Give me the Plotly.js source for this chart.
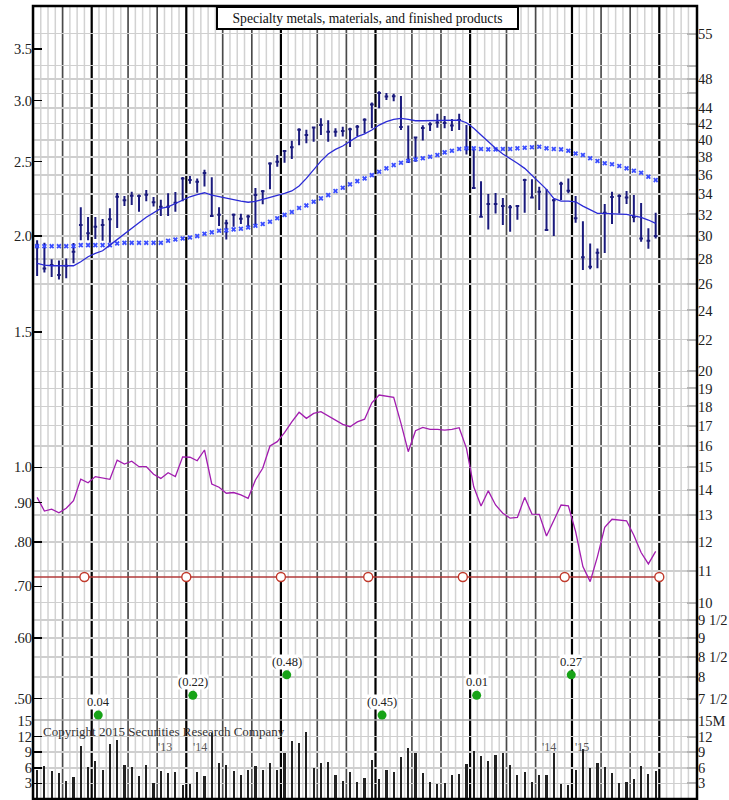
<!DOCTYPE html>
<html>
<head>
<meta charset="utf-8">
<script src="https://cdn.plot.ly/plotly-3.0.1.min.js"></script>
<style>html,body{margin:0;padding:0;background:#fff;}#chart{width:729px;height:800px;}</style>
</head>
<body>
<div id="chart"></div>
<script>
// ---------------- DATA (weekly bars, index 0 = first week shown) ----------------
const high = [29.63,29.39,27.97,27.88,28.05,29.37,32.71,31.75,31.75,31.56,
32.59,34.12,33.81,34.25,33.96,34.43,33.71,33.44,34.09,34.22,
35.79,35.90,35.65,36.59,35.76,32.70,31.50,32.10,32.06,31.96,
34.64,34.43,37.41,38.23,38.81,39.90,41.42,41.25,41.62,42.68,
42.42,41.42,41.62,41.50,41.83,42.68,44.76,46.28,46.03,45.93,
45.63,41.77,40.40,41.80,42.18,43.28,42.98,42.59,43.28,41.83,
38.93,35.36,34.02,34.12,33.61,32.91,32.91,35.60,35.55,34.78,
34.53,33.51,35.29,35.65,33.81,31.36,29.34,28.90,33.01,34.25,
33.99,34.33,33.91,33.11,30.70,32.16];
const low = [26.61,26.89,26.53,26.33,26.44,27.64,29.63,29.63,29.72,29.57,
29.39,30.72,32.81,32.91,32.26,33.28,32.78,31.85,31.85,32.26,
33.29,35.08,34.15,34.80,31.75,30.90,29.69,30.85,31.10,30.70,
30.88,33.00,34.50,36.91,37.36,37.79,39.36,39.60,39.79,40.60,
39.79,40.40,40.42,39.17,40.48,40.80,41.42,43.98,45.08,44.92,
41.21,37.32,37.47,39.95,41.10,41.48,41.42,41.10,41.21,38.29,
34.53,31.75,30.60,32.10,31.00,30.39,31.50,32.16,33.58,32.42,
30.54,29.99,33.41,34.09,31.22,27.09,27.15,27.23,28.50,31.10,
32.10,33.01,31.27,29.48,28.87,29.78];
const close = [29.10,27.22,27.50,26.69,27.45,28.61,31.00,30.24,30.84,31.00,
31.54,33.74,33.38,33.84,33.81,33.95,33.19,32.74,32.74,33.14,
35.65,35.47,35.29,36.22,31.85,31.96,31.17,31.96,31.60,31.80,
33.91,34.30,37.29,37.47,38.69,39.13,41.25,40.60,41.52,41.83,
41.00,41.00,41.09,41.30,41.62,42.50,44.50,46.03,45.58,45.60,
41.58,37.51,40.30,41.46,41.93,42.16,42.08,41.77,42.46,39.03,
34.64,31.78,33.01,33.01,32.81,32.69,32.81,35.47,33.66,34.25,
30.54,33.38,35.07,34.36,31.63,28.14,27.36,28.53,32.16,33.71,
33.81,33.66,31.75,29.78,29.57,29.99];
const ma10 = [27.63,27.50,27.44,27.44,27.44,27.44,27.77,28.19,28.48,28.70,
29.19,29.69,30.24,30.70,31.22,31.73,32.20,32.59,32.74,33.08,
33.41,33.74,33.96,34.15,33.91,33.74,33.58,33.44,33.31,33.19,
33.28,33.48,33.68,33.84,34.09,34.33,34.85,35.65,36.63,37.55,
38.35,38.89,39.28,39.79,40.40,40.73,41.21,41.83,42.25,42.55,
42.68,42.55,42.37,42.37,42.37,42.42,42.46,42.46,42.46,42.12,
41.42,40.60,39.79,39.01,38.35,37.86,37.30,36.74,36.00,35.18,
34.50,33.58,33.31,33.31,33.24,32.81,32.42,32.10,32.10,32.10,
32.03,32.00,31.85,31.72,31.47,31.16];
const ma40 = [29.10,29.10,29.10,29.10,29.10,29.10,29.19,29.19,29.19,29.19,
29.19,29.34,29.39,29.39,29.39,29.39,29.39,29.39,29.57,29.68,
29.78,29.87,29.99,30.20,30.33,30.47,30.51,30.60,30.66,30.78,
30.93,31.10,31.31,31.63,31.96,32.23,32.62,32.88,33.24,33.58,
33.91,34.33,34.67,35.02,35.36,35.65,36.00,36.37,36.74,37.10,
37.36,37.58,37.74,37.86,38.04,38.23,38.54,38.73,38.93,39.01,
39.01,38.93,38.89,38.89,38.93,38.93,39.01,39.08,39.13,39.20,
39.01,38.93,38.89,38.73,38.42,38.23,37.86,37.55,37.30,37.19,
37.00,36.74,36.48,36.26,35.83,35.47];
const relStrength = [13.71,13.16,13.23,13.09,13.27,13.57,14.48,14.32,14.59,14.54,
14.47,15.33,15.15,15.28,15.03,15.03,14.69,14.51,14.76,14.59,
15.48,15.46,15.30,15.80,14.27,14.13,13.88,13.91,13.81,13.67,
14.44,14.96,15.99,16.20,16.64,17.19,17.69,17.37,17.63,17.72,
17.49,17.24,17.06,16.94,17.19,17.33,18.20,18.63,18.57,18.50,
17.11,15.72,16.74,16.91,16.81,16.81,16.77,16.81,16.89,15.88,
14.15,13.36,13.98,13.40,13.07,12.88,12.91,13.71,13.04,13.03,
12.21,12.81,13.40,13.37,12.37,11.14,10.65,11.48,12.53,12.84,
12.81,12.78,12.24,11.62,11.23,11.66];
const volume = [5.58,6.35,5.38,4.94,3.46,4.17,10.25,6.22,7.37,5.58,
10.58,11.35,6.47,6.22,4.42,6.54,3.14,5.38,5.06,5.26,
2.69,2.88,5.26,4.42,12.63,6.86,6.47,5.38,4.62,5.51,
6.35,5.58,6.86,5.58,8.79,11.20,10.83,12.88,5.90,6.98,
7.05,4.62,3.52,5.19,3.33,4.00,7.50,3.91,5.58,5.26,
8.01,9.74,8.90,5.06,3.20,2.82,3.01,4.62,4.81,6.67,
9.23,8.33,7.31,8.46,8.90,6.54,4.62,5.19,3.33,4.62,
4.62,8.90,2.88,2.69,5.58,9.55,5.90,6.86,6.09,4.94,
3.01,3.20,3.78,6.41,4.81,5.45];
const weeks = high.map((_, i) => i);

// dividends (annual rate, left scale) and quarterly earnings labels
const divWeeks = [6.5, 20.5, 33.5, 45.5, 58.5, 72.5, 85.5];
const divRate = 0.72;
const epsWeeks = [8.4, 21.4, 34.3, 47.4, 60.4, 73.4];
const epsLabels = ["0.04", "(0.22)", "(0.48)", "(0.45)", "0.01", "0.27"];
const epsLevels = [0.476, 0.505, 0.537, 0.476, 0.505, 0.537];

// axis ticks
const earnTicks = [0.5, 0.6, 0.7, 0.8, 0.9, 1.0, 1.5, 2.0, 2.5, 3.0, 3.5];
const earnTickText = [".50", ".60", ".70", ".80", ".90", "1.0", "1.5", "2.0", "2.5", "3.0", "3.5"];
const priceTicks = [7.5, 8, 8.5, 9, 9.5, 10, 11, 12, 13, 14, 15, 16, 17, 18, 19, 20, 22, 24, 26, 28, 30, 32, 34, 36, 38, 40, 42, 44, 46, 48, 50, 55];
const priceTickText = ["7 1/2", "8", "8 1/2", "9", "9 1/2", "10", "11", "12", "13", "14", "15", "16", "17", "18", "19", "20", "22", "24", "26", "28", "30", "32", "34", "36", "38", "40", "42", "44", "", "48", "", "55"];
const volTicks = [3, 6, 9, 12, 15];
const volTickTextL = ["3", "6", "9", "12", "15"];
const volTickTextR = ["3", "6", "9", "12", "15M"];
const monthLines = [3.5, 12.5, 16.5, 25.5, 29.5, 38.5, 42.5, 51.5, 55.5, 64.5, 68.5, 77.5, 81.5];
const quarterLines = [7.5, 20.5, 33.5, 46.5, 59.5, 73.5, 85.5];
const yearLabels = [["'13", 17.6], ["'14", 22.4], ["'14", 70.4], ["'15", 74.9]];

// ---------------- LAYOUT CONSTANTS ----------------
const xMin = -0.566, xMax = 90.68;
const volTop = 0.0996;
const logLo = -0.3288, logHi = 0.6003;   // left (earnings) scale
const ratio = Math.log10(15);            // price = 15 x earnings scale
const volMax = 15.19;
const serif = '"Liberation Serif", "Times New Roman", serif';
const navy = '#1b1b7d';

const traces = [
  { type: 'bar', x: weeks, y: volume, xaxis: 'x', yaxis: 'y3', width: 0.3,
    marker: { color: '#222', line: { width: 0 } }, hoverinfo: 'skip' },
  { type: 'scatter', mode: 'lines', x: weeks, y: relStrength, xaxis: 'x', yaxis: 'y2',
    line: { color: '#a21caf', width: 1.3 }, hoverinfo: 'skip' },
  { type: 'scatter', mode: 'lines', x: [xMin, divWeeks[divWeeks.length - 1]], y: [divRate, divRate],
    xaxis: 'x', yaxis: 'y', line: { color: '#b23a3a', width: 1.4 }, hoverinfo: 'skip' },
  { type: 'scatter', mode: 'markers', x: divWeeks, y: divWeeks.map(() => divRate), xaxis: 'x', yaxis: 'y',
    marker: { symbol: 'circle', size: 9, color: '#fff', line: { color: '#c0392b', width: 1.4 } }, hoverinfo: 'skip' },
  { type: 'scatter', mode: 'markers', x: epsWeeks, y: epsLevels, xaxis: 'x', yaxis: 'y',
    marker: { symbol: 'circle', size: 9, color: '#17a317' }, hoverinfo: 'skip' },
  { type: 'scatter', mode: 'markers', x: weeks, y: ma40, xaxis: 'x', yaxis: 'y2',
    marker: { symbol: 'x', size: 4.5, color: '#3a4dff', line: { width: 0 } }, hoverinfo: 'skip' },
  { type: 'scatter', mode: 'lines', x: weeks, y: ma10, xaxis: 'x', yaxis: 'y2',
    line: { color: '#2b2bd6', width: 1.3 }, hoverinfo: 'skip' },
  { type: 'ohlc', x: weeks, open: close, high: high, low: low, close: close, xaxis: 'x', yaxis: 'y2',
    tickwidth: 0.25,
    increasing: { line: { color: navy, width: 2 } },
    decreasing: { line: { color: navy, width: 2 } }, hoverinfo: 'skip' }
];

const shapes = [];
for (let k = Math.ceil(xMin); k <= Math.floor(xMax); k++) {
  shapes.push({ type: 'line', xref: 'x', yref: 'paper', x0: k - 0.5, x1: k - 0.5, y0: 0, y1: 1,
    line: { color: '#d2d2d2', width: 1.5 }, layer: 'below' });
}
monthLines.forEach(m => shapes.push({ type: 'line', xref: 'x', yref: 'paper', x0: m, x1: m, y0: 0, y1: 1,
  line: { color: '#4a4a4a', width: 1.6 }, layer: 'between' }));
quarterLines.forEach(q => shapes.push({ type: 'line', xref: 'x', yref: 'paper', x0: q, x1: q, y0: 0, y1: 1,
  line: { color: '#000', width: 2.2 }, layer: 'between' }));
shapes.push({ type: 'line', xref: 'paper', yref: 'paper', x0: 0, x1: 1, y0: volTop, y1: volTop,
  line: { color: '#aaa', width: 1.5 }, layer: 'between' });
shapes.push({ type: 'rect', xref: 'paper', yref: 'paper', x0: 0, x1: 1, y0: 0, y1: 1,
  line: { color: '#000', width: 2.5 }, layer: 'above' });

const annotations = [];
epsWeeks.forEach((w, i) => annotations.push({
  x: w, y: Math.log10(epsLevels[i]), xref: 'x', yref: 'y', text: epsLabels[i], showarrow: false,
  yshift: 13, bgcolor: '#fff', borderpad: 0, font: { family: serif, size: 12.5, color: '#222' }
}));
yearLabels.forEach(([t, w]) => annotations.push({
  x: w, y: 10.0, xref: 'x', yref: 'y3', text: t, showarrow: false,
  font: { family: serif, size: 12, color: '#555' }
}));
annotations.push({
  x: 0.0116, y: 0.0855, xref: 'paper', yref: 'paper', xanchor: 'left', yanchor: 'middle',
  text: 'Copyright 2015 Securities Research Company', showarrow: false,
  font: { family: serif, size: 13, color: '#333' }
});
annotations.push({
  x: 0.5038, y: 1, xref: 'paper', yref: 'paper', xanchor: 'center', yanchor: 'top',
  text: 'Specialty metals, materials, and finished products', showarrow: false,
  width: 297, height: 18, borderpad: 1, bordercolor: '#000', borderwidth: 2, bgcolor: '#fff',
  font: { family: serif, size: 13.6, color: '#111' }
});

const tickFont = { family: serif, size: 14.5, color: '#222' };
const layout = {
  width: 729, height: 800,
  margin: { l: 33, r: 32, t: 6, b: 1 },
  paper_bgcolor: '#fff', plot_bgcolor: '#fff',
  showlegend: false, bargap: 0,
  font: { family: serif, size: 13, color: '#222' },
  xaxis: { range: [xMin, xMax], showgrid: false, zeroline: false, showticklabels: false, ticks: '',
    anchor: 'y3', rangeslider: { visible: false }, fixedrange: true },
  yaxis: { domain: [volTop, 1], type: 'log', range: [logLo, logHi], tickvals: earnTicks, ticktext: earnTickText,
    ticks: 'inside', ticklen: 9, tickcolor: '#000', tickwidth: 1.5, showgrid: false, zeroline: false,
    anchor: 'x', tickfont: tickFont },
  yaxis2: { overlaying: 'y', side: 'right', type: 'log', range: [logLo + ratio, logHi + ratio],
    tickvals: priceTicks, ticktext: priceTickText, ticks: 'inside', ticklen: 10, tickcolor: '#b5b5b5', tickwidth: 2,
    showgrid: true, gridcolor: '#cfcfcf', gridwidth: 1.5, zeroline: false, anchor: 'x',
    tickfont: tickFont },
  yaxis3: { domain: [0, volTop], range: [0, volMax], tickvals: volTicks, ticktext: volTickTextL,
    ticks: 'inside', ticklen: 9, tickcolor: '#000', tickwidth: 1.5, showgrid: true, gridcolor: '#cfcfcf', gridwidth: 1.5,
    zeroline: false, anchor: 'x', tickfont: tickFont },
  yaxis4: { overlaying: 'y3', side: 'right', range: [0, volMax], tickvals: volTicks, ticktext: volTickTextR,
    ticks: 'inside', ticklen: 10, tickcolor: '#b5b5b5', tickwidth: 2, showgrid: false, zeroline: false, anchor: 'x',
    tickfont: tickFont },
  shapes: shapes,
  annotations: annotations
};

// invisible trace so the right volume axis is rendered
traces.push({ type: 'scatter', mode: 'markers', x: [xMin], y: [0], xaxis: 'x', yaxis: 'y4',
  marker: { opacity: 0 }, hoverinfo: 'skip' });

Plotly.newPlot('chart', traces, layout, { staticPlot: true, displayModeBar: false });
</script>
</body>
</html>
